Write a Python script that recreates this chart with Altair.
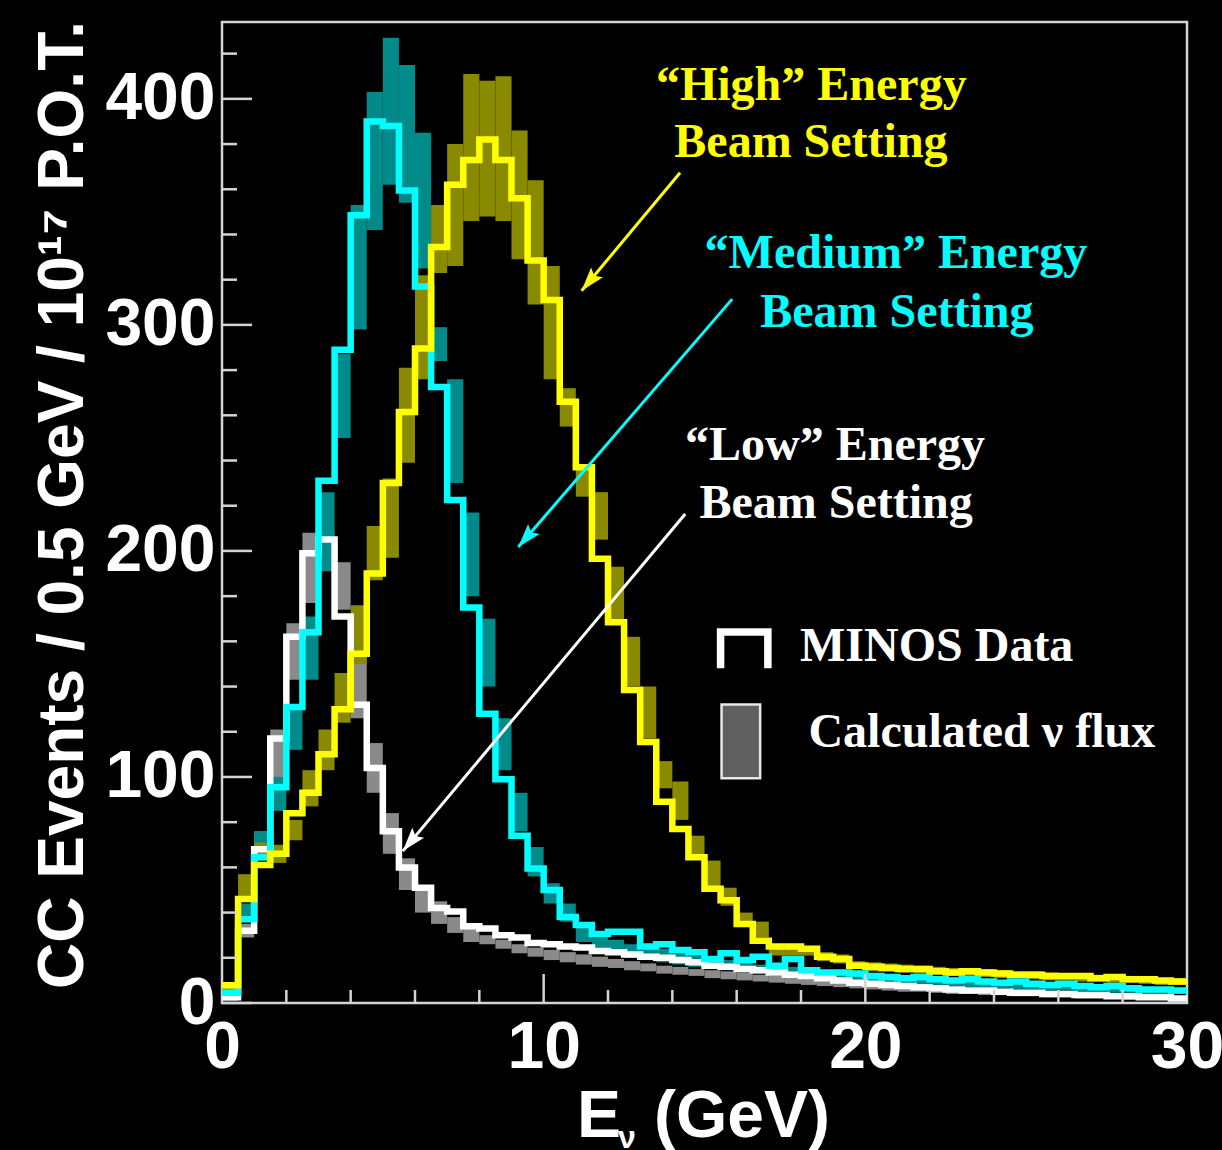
import math
import altair as alt
import pandas as pd

# ---- CC event spectra per 0.5 GeV bin, 0-30 GeV (60 bins) ----
BIN = 0.5
low_data = [2.5, 32, 68, 117, 162, 199, 205, 171, 132, 104,
            76, 60, 51, 42, 40.5, 34, 33, 30, 29, 26.5,
            26, 25, 24.5, 23, 22.5, 21.5, 20.5, 20, 19, 18,
            16.5, 16, 15, 14.5, 13.5, 12.5, 12, 11, 10, 9,
            8.5, 8, 7.5, 7, 6.5, 6, 5.5, 5.5, 5, 4.5,
            4.5, 4, 4, 3.5, 3.5, 3, 3, 2.5, 2.5, 2]
medium_data = [4.5, 37, 64.5, 95.5, 131, 164, 231, 289, 348.5, 390,
               388, 359.5, 317, 272.5, 222.5, 175, 128, 99, 74, 59.5,
               50, 38, 34.5, 30.5, 31.5, 31.5, 25, 26, 23.5, 22.5,
               19.5, 22, 19, 20.5, 16.5, 19.5, 14.5, 13.5, 13.5, 13,
               12, 11.5, 11, 11.5, 10.5, 10, 10.5, 9.5, 9, 9.5,
               8.5, 8, 8.5, 7.5, 7, 7.5, 6.5, 6, 6, 5.5]
high_data = [7.8, 46, 61, 66, 84, 93, 110, 130, 154.5, 190,
             230, 261.5, 289.5, 334.5, 362, 373, 382, 373, 356, 328.5,
             311, 266, 237, 196.5, 168.5, 138.5, 115.5, 89, 77, 64.5,
             50.5, 45.5, 35, 27.5, 25, 25, 24, 20.5, 19.5, 16.5,
             16, 15.5, 15, 15, 14, 13.5, 14, 13.5, 13, 12.5,
             12.5, 12, 12, 12, 11, 11.5, 10.5, 10.5, 10, 9.5]

# ---- calculated flux bands (low, high) per bin ----
low_band = [(1, 4), (29, 35), (68, 76), (100, 121), (143, 168), (177, 208), (193, 208), (174, 195), (126, 153), (93, 115),
            (66, 84), (50, 64), (40, 50), (35, 45), (31, 38), (27, 33), (26, 30), (24, 28), (22, 26), (20.5, 24.5),
            (19, 23.5), (18, 22.5), (17, 21.5), (16, 20.5), (15.5, 19.5), (14.5, 18.5), (14, 17.5), (13, 16.5), (12.5, 16), (12, 15),
            (11, 14.5), (10.5, 14), (10, 13.5), (9.5, 12.5), (9, 12), (8.5, 11.5), (8, 11), (7.5, 10.5), (7, 10), (6.5, 9.5),
            (6, 9), (5.5, 8.5), (5, 8), (5, 7.5), (4.5, 7), (4, 6.5), (4, 6), (3.5, 6), (3.5, 5.5), (3, 5),
            (3, 5), (2.5, 4.5), (2.5, 4.5), (2, 4), (2, 4), (2, 3.5), (1.5, 3.5), (1.5, 3), (1.5, 3), (1, 3)]
medium_band = [(2, 6), (38, 44), (68, 76), (85, 100), (112, 130), (143, 171), (191, 226), (250, 287), (298, 353), (342, 403),
               (362, 427), (354, 415), (325, 385), (284, 299), (230, 276), (180, 217), (140, 170), (103, 126), (76, 93), (56, 69),
               (44, 53), (36, 44), (27, 34), (24, 29), (22, 28), (20, 26), (19, 25), (18, 24), (17, 22), (16, 21),
               (15, 20), (14.5, 19), (14, 18), (13, 17), (12.5, 16.5), (12, 16), (11.5, 15), (11, 14.5), (10.5, 14), (10, 13.5),
               (9.5, 13), (9, 12.5), (8.5, 12), (8, 11.5), (8, 11), (7.5, 10.5), (7, 10), (7, 10), (6.5, 9.5), (6, 9),
               (6, 9), (5.5, 8.5), (5.5, 8), (5, 7.5), (5, 7.5), (4.5, 7), (4.5, 7), (4, 6.5), (4, 6.5), (4, 6)]
high_band = [(4, 9), (47, 57), (63, 71), (62, 70), (72, 81), (87, 103), (103, 121), (124, 146), (150, 176), (187, 211),
             (197, 232), (239, 281), (276, 322), (323, 353), (326, 380), (346, 411), (348, 408), (346, 410), (329, 386), (309, 364),
             (276, 326), (255, 272), (224, 237), (205, 226), (169, 193), (140, 162), (117, 140), (95, 107), (81, 98), (65, 74),
             (51, 63), (43, 51), (34, 40), (29, 36), (21, 25), (21, 24), (21, 24), (18.5, 22.5), (17.5, 21.5), (15, 18.5),
             (14, 18), (14, 17.5), (13.5, 17), (13, 16.5), (12.5, 16), (12, 15.5), (12, 15.5), (11.5, 15), (11, 14.5), (11, 14),
             (10.5, 14), (10, 13.5), (10, 13), (9.5, 13), (9.5, 12.5), (9, 12), (9, 12), (8.5, 11.5), (8, 11), (8, 11)]

series_names = ["Low", "Medium", "High"]
line_colors = ["#ffffff", "#00ffff", "#ffff00"]
band_colors = ["#8a8a8a", "#008a8a", "#8a8a00"]

y_major = [0, 100, 200, 300, 400]
y_minor = [20, 40, 60, 80, 120, 140, 160, 180, 220, 240, 260, 280, 320, 340, 360, 380, 420]
x_major = [10, 20]
x_minor = [2, 4, 6, 8, 12, 14, 16, 18, 22, 24, 26, 28]

# ---- annotations (data coordinates) ----
labels = [
    ("\u201cHigh\u201d Energy", 18.32, 399.5, "#ffff00"),
    ("Beam Setting", 18.31, 374.1, "#ffff00"),
    ("\u201cMedium\u201d Energy", 20.95, 325.0, "#00ffff"),
    ("Beam Setting", 20.98, 299.2, "#00ffff"),
    ("\u201cLow\u201d Energy", 19.06, 240.2, "#ffffff"),
    ("Beam Setting", 19.09, 214.4, "#ffffff"),
]
arrows = [  # start (x, y) -> tip (x, y)
    (14.24, 367.3, 11.18, 315.1, "#ffff00"),
    (15.86, 311.4, 9.21, 201.7, "#00ffff"),
    (14.40, 216.3, 5.62, 67.2, "#ffffff"),
]
legend_text = [("MINOS Data", 17.97, 151.4), ("Calculated \u03bd flux", 18.23, 113.1)]
legend_step = [(15.50, 148.1), (15.50, 164.1), (16.97, 164.1), (16.97, 148.1)]
legend_box = (15.53, 16.73, 99.4, 132.1)

# ---- layout ----
W, H = 965, 981
X_MAX, Y_MAX = 30, 434
FRAME = "#d4d4d4"

x_scale = alt.Scale(domain=[0, X_MAX], nice=False, zero=False)
y_scale = alt.Scale(domain=[0, Y_MAX], nice=False, zero=False)
label_style = dict(labelFont="Liberation Sans", labelFontWeight="bold", labelFontSize=66,
                   labelColor="white", grid=False, ticks=False, tickSize=0, domain=False,
                   title=None, labelOverlap=False)
x_axis = alt.Axis(values=[0, 10, 20, 30], format="d", labelPadding=12, labelFlush=False, **label_style)
y_axis = alt.Axis(values=y_major, format="d", labelPadding=7, **label_style)


def X(field):
    return alt.X(field, type="quantitative", scale=x_scale, axis=x_axis)


def Y(field):
    return alt.Y(field, type="quantitative", scale=y_scale, axis=y_axis)


# bands
band_rows = []
for name, band in zip(series_names, [low_band, medium_band, high_band]):
    for i, (lo, hi) in enumerate(band):
        band_rows.append({"e0": i * BIN, "e1": (i + 1) * BIN, "lo": lo, "hi": hi, "series": name})
bands = alt.Chart(pd.DataFrame(band_rows)).mark_rect(strokeWidth=0).encode(
    x=X("e0"), x2="e1", y=Y("lo"), y2="hi",
    color=alt.Color("series:N", scale=alt.Scale(domain=series_names, range=band_colors), legend=None),
)


def step_layer(values, colour):
    edges = [i * BIN for i in range(len(values) + 1)]
    df = pd.DataFrame({"E": edges, "N": list(values) + [values[-1]]})
    return alt.Chart(df).mark_line(interpolate="step-after", strokeWidth=6.5, color=colour,
                                   strokeJoin="miter", strokeCap="butt").encode(x=X("E"), y=Y("N"))


lines = [step_layer(v, c) for v, c in zip([low_data, medium_data, high_data], line_colors)]

# inside ticks
def ytick(values, length):
    return alt.Chart(pd.DataFrame({"v": values})).mark_rule(color=FRAME, strokeWidth=2.5).encode(
        y=Y("v"), x=alt.value(0), x2=alt.value(length))


def xtick(values, length):
    return alt.Chart(pd.DataFrame({"v": values})).mark_rule(color=FRAME, strokeWidth=2.5).encode(
        x=X("v"), y=alt.value(H), y2=alt.value(H - length))


ticks = [ytick(y_major, 30), ytick(y_minor, 15), xtick(x_major, 29), xtick(x_minor, 13)]

# annotation text
ann = alt.Chart(pd.DataFrame(labels, columns=["t", "x", "y", "c"])).mark_text(
    font="Liberation Serif", fontWeight="bold", fontSize=48, align="center", baseline="alphabetic"
).encode(x=X("x"), y=Y("y"), text="t:N", color=alt.Color("c:N", scale=None))

# arrows
sx, sy = W / X_MAX, H / Y_MAX
arrow_rows = []
for x0, y0, x1, y1, c in arrows:
    dx, dy = (x1 - x0) * sx, -(y1 - y0) * sy
    ang = math.degrees(math.atan2(dx, -dy)) % 360
    arrow_rows.append({"x0": x0, "y0": y0, "x1": x1, "y1": y1, "c": c, "ang": ang})
arrow_df = pd.DataFrame(arrow_rows)
shafts = alt.Chart(arrow_df).mark_rule(strokeWidth=3).encode(
    x=X("x0"), y=Y("y0"), x2="x1", y2="y1", color=alt.Color("c:N", scale=None))
heads = alt.Chart(arrow_df).mark_point(
    shape="M0,0L0.32,1L0,0.82L-0.32,1Z", filled=True, size=2304, opacity=1, strokeWidth=0
).encode(x=X("x1"), y=Y("y1"), angle=alt.Angle("ang:Q", scale=None), color=alt.Color("c:N", scale=None))

# legend
leg_txt = alt.Chart(pd.DataFrame(legend_text, columns=["t", "x", "y"])).mark_text(
    font="Liberation Serif", fontWeight="bold", fontSize=48, align="left", baseline="alphabetic", color="white"
).encode(x=X("x"), y=Y("y"), text="t:N")
step_df = pd.DataFrame([{"i": i, "x": p[0], "y": p[1]} for i, p in enumerate(legend_step)])
leg_step = alt.Chart(step_df).mark_line(color="white", strokeWidth=7.5, strokeJoin="miter", strokeCap="butt").encode(
    x=X("x"), y=Y("y"), order="i:Q")
leg_box = alt.Chart(pd.DataFrame([dict(zip(["a", "b", "lo", "hi"], legend_box))])).mark_rect(
    fill="#606060", stroke="#e6e6e6", strokeWidth=2.5).encode(x=X("a"), x2="b", y=Y("lo"), y2="hi")

# axis titles
one = pd.DataFrame({"k": [0]})
title_font = dict(font="Liberation Sans", fontWeight="bold", color="white", baseline="alphabetic")
y_title = alt.Chart(one).mark_text(text="CC Events / 0.5 GeV / 10\u00b9\u2077 P.O.T.", angle=270,
                                   fontSize=64, align="center", **title_font).encode(
    x=alt.value(-139), y=alt.value(483))
x_title_e = alt.Chart(one).mark_text(text="E", fontSize=66, align="left", **title_font).encode(
    x=alt.value(355), y=alt.value(1115))
x_title_nu = alt.Chart(one).mark_text(text="\u03bd", fontSize=32, align="left", **title_font).encode(
    x=alt.value(396), y=alt.value(1126))
x_title_unit = alt.Chart(one).mark_text(text="(GeV)", fontSize=66, align="left", **title_font).encode(
    x=alt.value(432), y=alt.value(1115))

chart = alt.layer(
    bands, *lines, *ticks, shafts, heads, ann, leg_step, leg_box, leg_txt,
    y_title, x_title_e, x_title_nu, x_title_unit,
).properties(
    width=W, height=H,
    padding={"left": 222, "top": 22, "right": 35, "bottom": 147},
    autosize=alt.AutoSizeParams(type="none"),
    background="black",
).configure_view(stroke=FRAME, strokeWidth=2.5)

chart.save("out.html", embed_options={"renderer": "svg", "actions": False})
